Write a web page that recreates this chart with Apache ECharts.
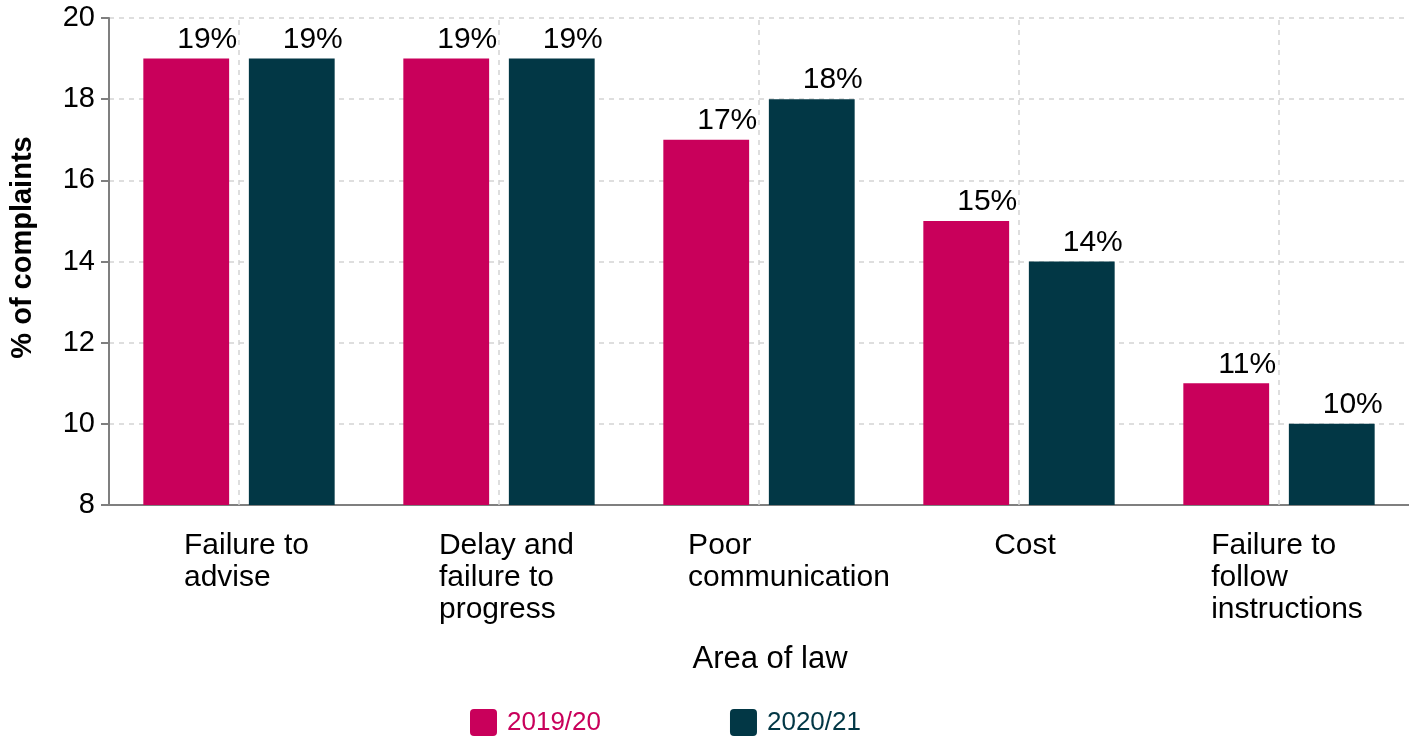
<!DOCTYPE html>
<html><head><meta charset="utf-8">
<script src="https://cdn.jsdelivr.net/npm/echarts@6/dist/echarts.min.js"></script>
<style>html,body{margin:0;padding:0;background:#fff}#c{width:1409px;height:738px}</style>
</head><body><div id="c"></div>
<script>
const categories = ['Failure to\nadvise', 'Delay and\nfailure to\nprogress', 'Poor\ncommunication', 'Cost', 'Failure to\nfollow\ninstructions'];
const series2019 = [19, 19, 17, 15, 11];
const series2020 = [19, 19, 18, 14, 10];
const seriesNames = ['2019/20', '2020/21'];
const yTicks = { min: 8, max: 20, interval: 2 };
const labelShift = [15, 15, 60, 12, 16];

const FONT = '"Liberation Sans", Arial, sans-serif';
const rich = {};
labelShift.forEach((p, i) => {
  rich['c' + i] = { align: 'left', fontSize: 30, lineHeight: 32, color: '#000', fontFamily: FONT, padding: [0, 0, 0, p] };
});

const chart = echarts.init(document.getElementById('c'));
const barLabel = { show: true, position: 'top', formatter: '{c}%', fontSize: 30, color: '#000', fontFamily: FONT, offset: [21, 1] };
chart.setOption({
  animation: false,
  textStyle: { fontFamily: FONT },
  grid: { left: 108, right: 0, top: 18, bottom: 233 },
  legend: {
    left: 465, top: 704, itemWidth: 27, itemHeight: 27, itemGap: 129,
    icon: 'path://M4,0 H23 Q27,0 27,4 V23 Q27,27 23,27 H4 Q0,27 0,23 V4 Q0,0 4,0 Z',
    textStyle: { fontSize: 26, fontFamily: FONT, color: 'inherit', padding: [0, 0, 0, 5] },
    data: seriesNames
  },
  xAxis: {
    type: 'category', data: categories,
    name: 'Area of law', nameLocation: 'middle', nameGap: 139,
    nameTextStyle: { fontSize: 31, color: '#000', fontFamily: FONT, padding: [0, 0, 0, 22] },
    axisLine: { lineStyle: { color: '#7f7f7f', width: 2 } },
    axisTick: { alignWithLabel: true, length: 10, lineStyle: { color: '#7f7f7f', width: 2 } },
    axisLabel: {
      margin: 25, interval: 0,
      formatter: (v, i) => v.split('\n').map(s => '{c' + i + '|' + s + '}').join('\n'),
      rich: rich
    },
    splitLine: { show: false }
  },
  yAxis: {
    type: 'value', min: yTicks.min, max: yTicks.max, interval: yTicks.interval,
    name: '% of complaints', nameLocation: 'middle', nameGap: 72,
    nameTextStyle: { fontSize: 29, fontWeight: 'bold', color: '#000', fontFamily: FONT, padding: [0, 0, 0, 28] },
    axisLine: { show: true, lineStyle: { color: '#7f7f7f', width: 2 } },
    axisTick: { show: true, length: 8, lineStyle: { color: '#7f7f7f', width: 2 } },
    axisLabel: { fontSize: 29, color: '#000', margin: 14, fontFamily: FONT },
    splitLine: { lineStyle: { color: '#d3d3d3', type: [5, 5], width: 1.5 } }
  },
  series: [
    {
      name: seriesNames[0], type: 'bar', data: series2019, barWidth: '33%', barGap: '23%',
      itemStyle: { color: '#C9005B' }, label: barLabel, z: 3
    },
    {
      name: seriesNames[1], type: 'bar', data: series2020, barWidth: '33%', barGap: '23%',
      itemStyle: { color: '#023745' }, label: barLabel, z: 3
    },
    {
      name: 'grid-v', type: 'line', data: [], silent: true, z: 1,
      markLine: {
        silent: true, symbol: 'none', label: { show: false }, z: 1, animation: false,
        lineStyle: { color: '#d3d3d3', type: [5, 5], width: 1.5 },
        data: categories.map((c, i) => ({ xAxis: i }))
      }
    }
  ]
});
</script></body></html>
